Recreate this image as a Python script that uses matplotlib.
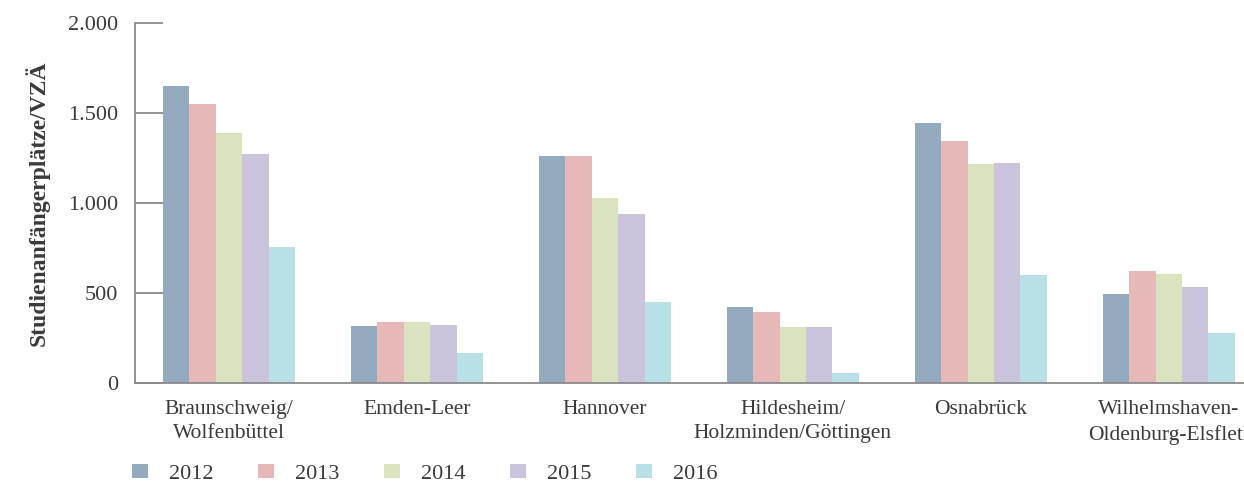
import numpy as np
import matplotlib.pyplot as plt
from matplotlib.patches import Patch

plt.rcParams['font.family'] = ['Liberation Serif', 'DejaVu Serif']

regionen = ['Braunschweig/\nWolfenbüttel', 'Emden-Leer', 'Hannover',
            'Hildesheim/\nHolzminden/Göttingen', 'Osnabrück',
            'Wilhelmshaven-\nOldenburg-Elsfletl']
jahre = ['2012', '2013', '2014', '2015', '2016']
farben = ['#94aabf', '#e6b8b8', '#d9e4bf', '#cbc2db', '#b9dfe7']

w2012 = [1652, 318, 1263, 424, 1444, 496]
w2013 = [1552, 339, 1263, 396, 1344, 622]
w2014 = [1389, 339, 1030, 313, 1217, 607]
w2015 = [1272, 322, 941, 313, 1224, 533]
w2016 = [756, 167, 452, 57, 600, 279]
werte = [w2012, w2013, w2014, w2015, w2016]

yticks = [0, 500, 1000, 1500, 2000]
yticklabels = ['0', '500', '1.000', '1.500', '2.000']

txt = '#3a3a3a'
fig = plt.figure(figsize=(12.44, 4.83), dpi=100)
ax = fig.add_axes([0.1085, 0.207, 0.8915, 0.745])

x = np.arange(len(regionen))
bw = 0.1405
for i, (vals, c) in enumerate(zip(werte, farben)):
    ax.bar(x + (i - 2) * bw, vals, bw, color=c, linewidth=0)

ax.set_xlim(-0.5, 5.4)
ax.set_ylim(0, 2000)
ax.set_yticks(yticks)
ax.set_yticklabels(yticklabels)
ax.set_xticks(x)
ax.set_xticklabels(regionen, linespacing=1.4)
ax.tick_params(axis='y', direction='in', length=20, width=1.3, color='#8a8a8a',
               labelsize=16, labelcolor=txt, pad=12)
ax.tick_params(axis='x', length=0, labelsize=15.5, labelcolor=txt, pad=12)
for s in ['top', 'right']:
    ax.spines[s].set_visible(False)
for s in ['left', 'bottom']:
    ax.spines[s].set_color('#8a8a8a')
    ax.spines[s].set_linewidth(1.3)
ax.set_ylabel('Studienanfängerplätze/VZÄ', fontsize=17, fontweight='bold',
              color=txt, labelpad=13)

handles = [Patch(facecolor=c, edgecolor='none') for c in farben]
fig.legend(handles, jahre, loc='center left', bbox_to_anchor=(0.106, 0.019),
           ncol=5, frameon=False, fontsize=16, handlelength=0.72,
           handleheight=0.63, handletextpad=0.95, columnspacing=2.0,
           borderpad=0, borderaxespad=0, labelcolor=txt)

fig.savefig('out.png', dpi=100)
